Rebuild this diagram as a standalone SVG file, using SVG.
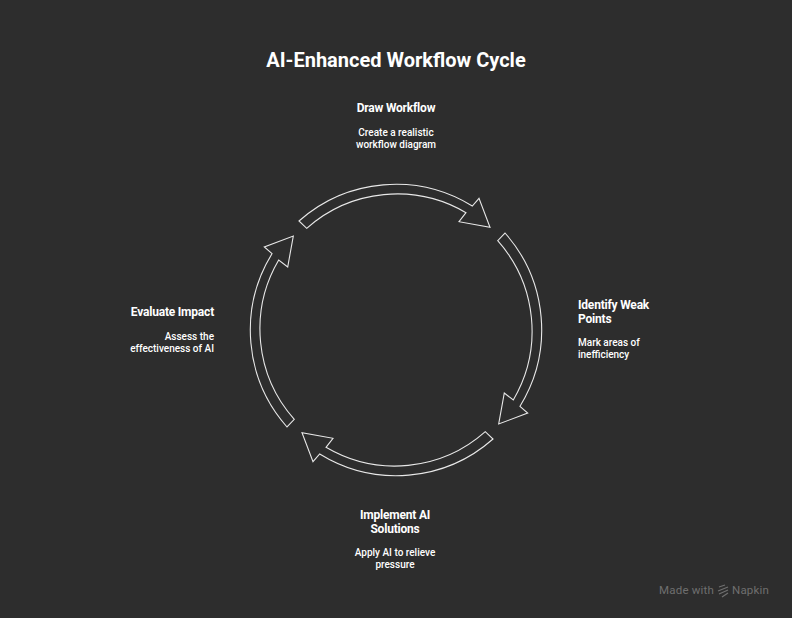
<svg xmlns="http://www.w3.org/2000/svg" width="792" height="618" viewBox="0 0 792 618">
<style>
text{font-family:Roboto,"Liberation Sans",sans-serif;fill:#fff}
.title{font-size:20px;font-weight:700}
.h{font-size:12px;font-weight:700;letter-spacing:-.2px}
.d{font-size:10px;font-weight:500}
.m{text-anchor:middle}.e{text-anchor:end}
.arc{fill:none;stroke:#e8e8e8;stroke-width:1.1;stroke-linejoin:miter}
.wm{font-size:11.5px;fill:#6f6f6f;font-weight:400;letter-spacing:.2px}
</style>
<rect width="792" height="618" fill="#2d2d2d"/>
<text class="title m" x="396" y="67">AI-Enhanced Workflow Cycle</text>
<g id="connectors">
<path class="arc" d="M299 221A146 146 0 0 1 472.3 206L479 198.3L490 227.3L459 221.7L466 212.7A136 136 0 0 0 306.7 228.3Z"/>
<path class="arc" d="M505 233A146 146 0 0 1 520 406.3L527.7 413L498.7 424L504.3 393L513.3 400A136 136 0 0 0 497.7 240.7Z"/>
<path class="arc" d="M493 439A146 146 0 0 1 319.7 454L313 461.7L302 432.7L333 438.3L326 447.3A136 136 0 0 0 485.3 431.7Z"/>
<path class="arc" d="M287 427A146 146 0 0 1 272 253.7L264.3 247L293.3 236L287.7 267L278.7 260A136 136 0 0 0 294.3 419.3Z"/>
</g>
<g id="node-draw-workflow">
<text class="h m" x="396" y="112">Draw Workflow</text>
<text class="d m" x="396" y="136">Create a realistic</text>
<text class="d m" x="396" y="148">workflow diagram</text>
</g>
<g id="node-identify-weak-points">
<text class="h" x="578" y="309">Identify Weak</text>
<text class="h" x="578" y="323">Points</text>
<text class="d" x="578" y="346">Mark areas of</text>
<text class="d" x="578" y="358">inefficiency</text>
</g>
<g id="node-implement-ai">
<text class="h m" x="395" y="519">Implement AI</text>
<text class="h m" x="395" y="533">Solutions</text>
<text class="d m" x="395" y="556">Apply AI to relieve</text>
<text class="d m" x="395" y="568">pressure</text>
</g>
<g id="node-evaluate-impact">
<text class="h e" x="214" y="316">Evaluate Impact</text>
<text class="d e" x="214" y="340">Assess the</text>
<text class="d e" x="214" y="352">effectiveness of AI</text>
</g>
<g id="watermark">
<text class="wm" x="659" y="594">Made with</text>
<path d="M719 587L725 585M718 591L728 587M719 594L728 590M722 597L728 593" stroke="#6f6f6f" stroke-width="1.3" fill="none"/>
<text class="wm" x="732" y="594">Napkin</text>
</g>
</svg>
